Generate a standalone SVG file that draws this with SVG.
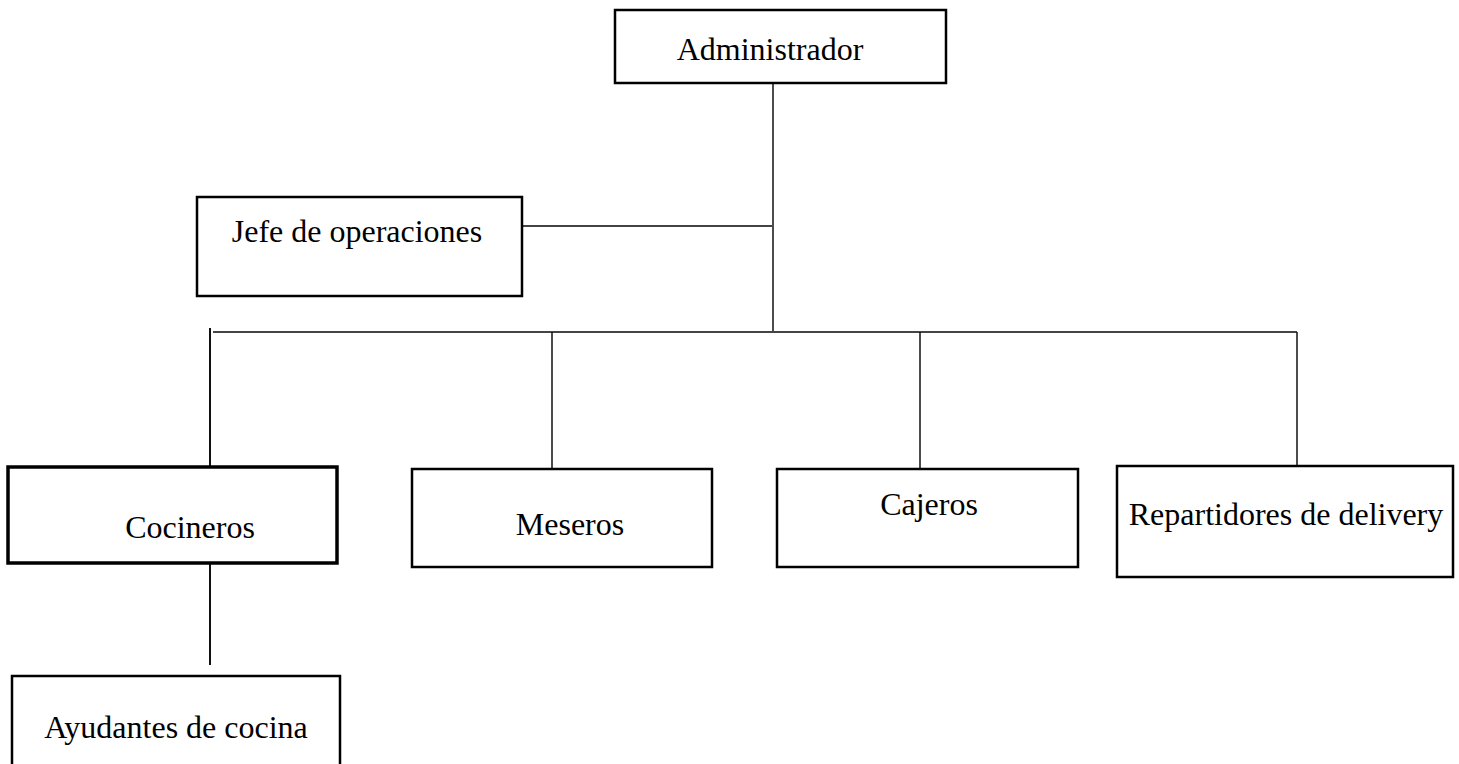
<svg xmlns="http://www.w3.org/2000/svg" width="1459" height="764" viewBox="0 0 1459 764">
<style>
.box{fill:#fff;stroke:#000;stroke-width:2.5}
.lbl{font-family:"Liberation Serif","Times New Roman",serif;font-size:32px;fill:#000}
.conn{stroke:#111;stroke-width:1.5;fill:none}
.hline{stroke:#444;stroke-width:1.8;fill:none}
</style>
<rect width="1459" height="764" fill="#fff"/>
<g id="connectors">
<line class="conn" x1="773" y1="83" x2="773" y2="332"/>
<line class="hline" x1="522" y1="226" x2="772" y2="226"/>
<line class="hline" x1="213" y1="332" x2="1297" y2="332"/>
<line class="conn" x1="210" y1="328" x2="210" y2="466" style="stroke-width:2"/>
<line class="conn" x1="552" y1="332" x2="552" y2="469"/>
<line class="conn" x1="920" y1="332" x2="920" y2="469"/>
<line class="conn" x1="1297" y1="332" x2="1297" y2="467"/>
<line class="conn" x1="210" y1="563" x2="210" y2="665" style="stroke-width:2"/>
</g>
<g id="n-admin">
<rect class="box" x="615" y="10" width="331" height="73"/>
<text class="lbl" x="770" y="60" text-anchor="middle">Administrador</text>
</g>
<g id="n-jefe">
<rect class="box" x="197" y="197" width="325" height="99"/>
<text class="lbl" x="357" y="242" text-anchor="middle">Jefe de operaciones</text>
</g>
<g id="n-cocineros">
<rect class="box" x="8" y="467" width="329" height="96" style="stroke-width:3.5"/>
<text class="lbl" x="190" y="538" text-anchor="middle">Cocineros</text>
</g>
<g id="n-meseros">
<rect class="box" x="412" y="469" width="300" height="98"/>
<text class="lbl" x="570" y="535" text-anchor="middle">Meseros</text>
</g>
<g id="n-cajeros">
<rect class="box" x="777" y="469" width="301" height="98"/>
<text class="lbl" x="929" y="515" text-anchor="middle">Cajeros</text>
</g>
<g id="n-repartidores">
<rect class="box" x="1117" y="466" width="336" height="111"/>
<text class="lbl" x="1286" y="525" text-anchor="middle">Repartidores de delivery</text>
</g>
<g id="n-ayudantes">
<rect class="box" x="12" y="676" width="328" height="100"/>
<text class="lbl" x="176" y="738" text-anchor="middle">Ayudantes de cocina</text>
</g>
</svg>
